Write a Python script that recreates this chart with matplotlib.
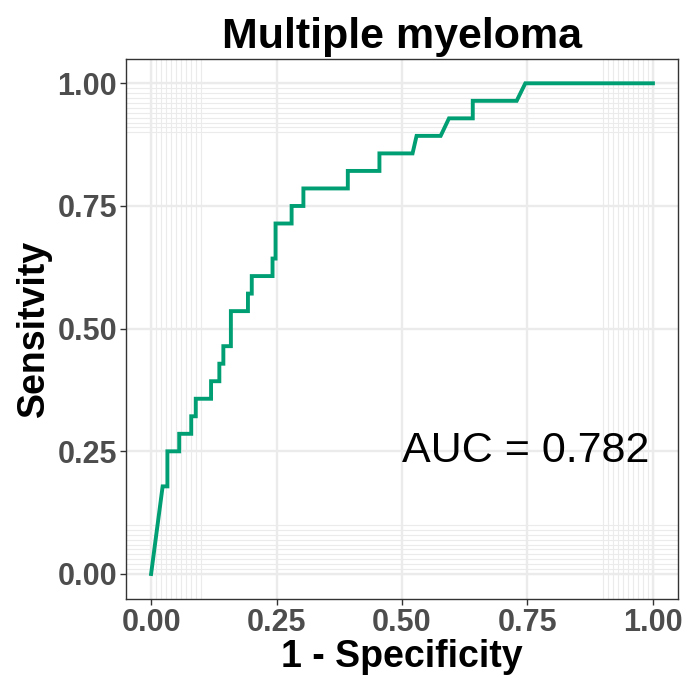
import numpy as np
import matplotlib.pyplot as plt

plt.rcParams['font.family'] = ['Liberation Sans', 'DejaVu Sans']

# ROC curve (sensitivity in 1/28 steps)
fpr = [0.0, 0.023, 0.0325, 0.0325, 0.056, 0.056, 0.080, 0.080, 0.089, 0.089,
       0.1195, 0.1195, 0.136, 0.136, 0.144, 0.144, 0.159, 0.159, 0.193, 0.193,
       0.2006, 0.2006, 0.242, 0.242, 0.248, 0.248, 0.280, 0.280, 0.3035, 0.3035,
       0.392, 0.392, 0.455, 0.455, 0.521, 0.529, 0.577, 0.5936, 0.641, 0.641,
       0.7285, 0.7457, 1.0]
tpr_n = [0, 5, 5, 7, 7, 8, 8, 9, 9, 10,
         10, 11, 11, 12, 12, 13, 13, 15, 15, 16,
         16, 17, 17, 18, 18, 20, 20, 21, 21, 22,
         22, 23, 23, 24, 24, 25, 25, 26, 26, 27,
         27, 28, 28]
n_pos = 28
tpr = [v / n_pos for v in tpr_n]

auc_label = "AUC = 0.782"
title = "Multiple myeloma"
major_ticks = [0.0, 0.25, 0.5, 0.75, 1.0]
tick_labels = ["0.00", "0.25", "0.50", "0.75", "1.00"]
minor_ticks = [i / 100 for i in range(0, 11)] + [i / 100 for i in range(90, 101)]

fig = plt.figure(figsize=(7, 6.81), dpi=100)
ax = fig.add_axes([0.18, 0.1211, 0.7886, 0.7926])

for v in minor_ticks:
    ax.axvline(v, color='#EBEBEB', lw=0.8, zorder=0)
    ax.axhline(v, color='#EBEBEB', lw=0.8, zorder=0)
for v in major_ticks:
    ax.axvline(v, color='#EBEBEB', lw=1.7, zorder=0)
    ax.axhline(v, color='#EBEBEB', lw=1.7, zorder=0)

ax.plot(fpr, tpr, color='#009E73', lw=2.8, solid_joinstyle='miter', zorder=3)

ax.text(0.993, 0.25, auc_label, ha='right', va='center', fontsize=31, color='black')

ax.set_xlim(-0.05, 1.05)
ax.set_ylim(-0.05, 1.05)
ax.set_xticks(major_ticks)
ax.set_xticklabels(tick_labels)
ax.set_yticks(major_ticks)
ax.set_yticklabels(tick_labels)
ax.tick_params(axis='both', length=4.5, width=1, color='#333333',
               labelsize=22, labelcolor='#4D4D4D', pad=2)
for lab in ax.get_xticklabels() + ax.get_yticklabels():
    lab.set_fontweight('bold')
for s in ax.spines.values():
    s.set_color('#333333')
    s.set_linewidth(1)

ax.set_xlabel("1 - Specificity", fontsize=27, fontweight='bold', labelpad=1)
ax.set_ylabel("Sensitvity", fontsize=27, fontweight='bold', labelpad=4)
ax.set_title(title, fontsize=31, fontweight='bold', pad=8)

fig.savefig("out.png", dpi=100)
